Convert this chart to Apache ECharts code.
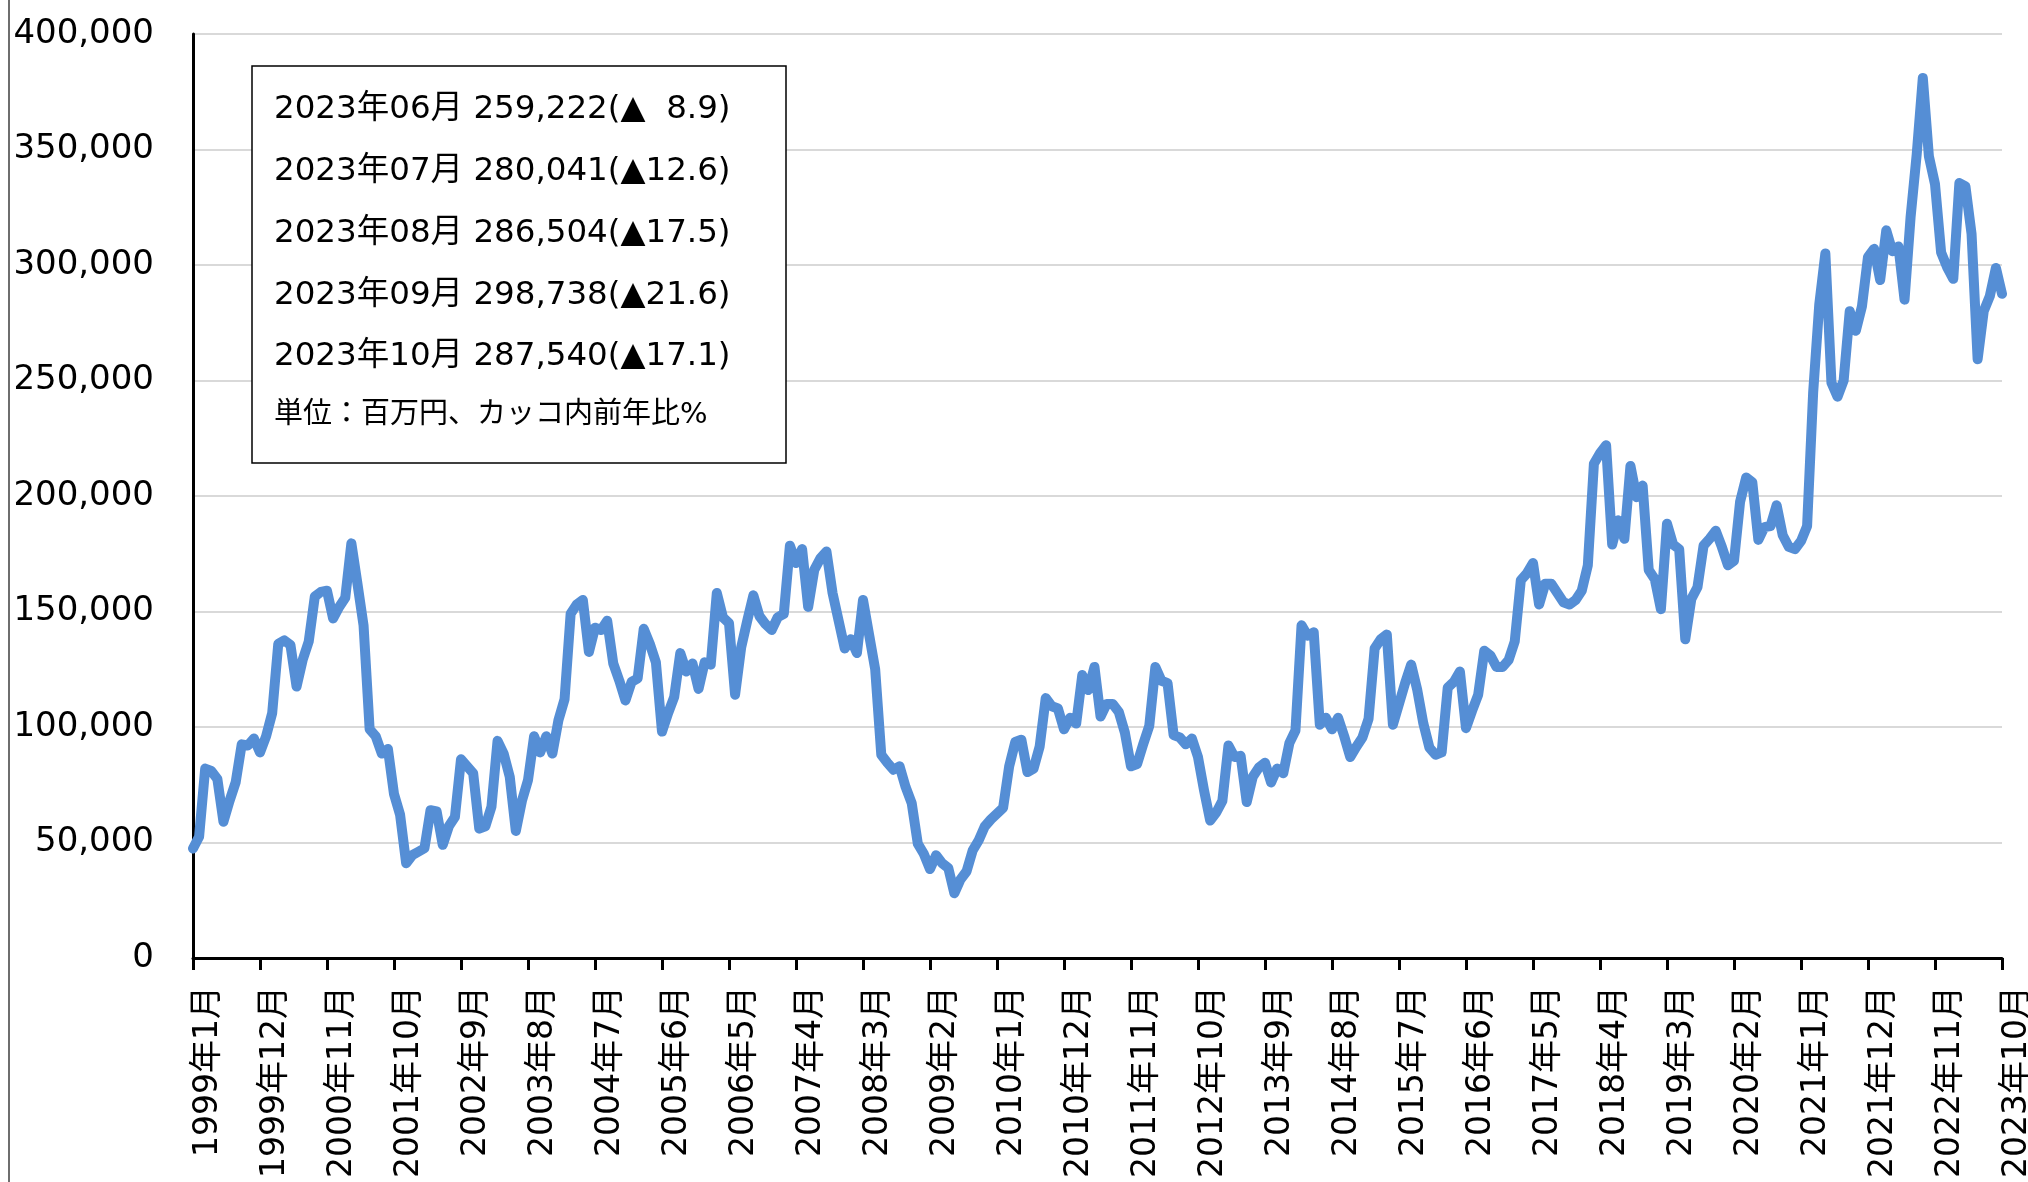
<!DOCTYPE html>
<html lang="ja">
  <head>
    <meta charset="UTF-8" />
    <title>月次輸入額の推移</title>
    <style>
      html,
      body {
        margin: 0;
        padding: 0;
        background: #fff;
      }
      #main {
        width: 2028px;
        height: 1182px;
      }
    </style>
  </head>
  <body>
    <div id="main"></div>
    <script src="https://cdn.jsdelivr.net/npm/echarts@6.0.0/dist/echarts.min.js"></script>
    <script>
      // 月次の値（百万円）1999年1月〜2023年10月
      const values = [
        // 1999
        47400, 52500, 82000, 81000, 77500, 59000, 68000, 76000, 92500, 92000, 95000, 89000,
        // 2000
        96000, 106000, 136000, 137500, 135500, 117500, 129000, 137000, 156500, 158500, 159000, 147000,
        // 2001
        152000, 156000, 179500, 162000, 144000, 99000, 96000, 88500, 90500, 71000, 62000, 41000,
        // 2002
        44500, 46000, 47500, 64000, 63500, 49000, 57000, 61000, 86000, 83000, 80000, 56000,
        // 2003
        57000, 65500, 94000, 88500, 78500, 55000, 68000, 77000, 96000, 89000, 96000, 88500,
        // 2004
        103000, 112000, 149000, 153000, 155000, 132500, 143000, 142000, 146000, 127500, 120000, 111500,
        // 2005
        119500, 121000, 142500, 136000, 128000, 98000, 106000, 113000, 132000, 124000, 127500, 116500,
        // 2006
        128000, 127000, 158000, 147500, 145000, 114000, 134500, 146000, 157000, 148000, 144500, 142000,
        // 2007
        147500, 149000, 178500, 171000, 177000, 152000, 168000, 173000, 176000, 158000, 146000, 134000,
        // 2008
        138000, 132000, 155000, 140000, 125000, 88000, 84500, 81500, 83000, 74000, 67000, 49500,
        // 2009
        45000, 38500, 44500, 41000, 39000, 28000, 34000, 37500, 46500, 51000, 57000, 60000,
        // 2010
        62500, 65000, 83000, 93500, 94500, 80500, 82000, 91500, 112500, 109000, 108000, 99000,
        // 2011
        104000, 101500, 122500, 116000, 126000, 104500, 110000, 110000, 106500, 97500, 83000, 84000,
        // 2012
        92500, 100500, 126000, 120000, 119000, 96500, 95500, 92500, 95000, 87000, 72500, 59500,
        // 2013
        63000, 68000, 92000, 87000, 87500, 67500, 78500, 82500, 84500, 76000, 82000, 80000,
        // 2014
        93000, 98500, 144000, 139500, 141000, 101000, 104000, 99000, 104000, 96000, 87000, 91500,
        // 2015
        95500, 103500, 134000, 138000, 140000, 101000, 110000, 119000, 127000, 116000, 101500, 91000,
        // 2016
        88000, 89000, 117000, 119500, 124000, 99500, 107000, 114000, 133000, 131000, 126000, 126000,
        // 2017
        129000, 137000, 163500, 166500, 171000, 153000, 162000, 162000, 158000, 154000, 153000, 155000,
        // 2018
        159000, 170000, 214000, 218500, 222000, 179000, 189500, 181500, 213000, 199500, 204500, 168000,
        // 2019
        164000, 151000, 188000, 179000, 177000, 138000, 155500, 160500, 178500, 181500, 185000, 178000,
        // 2020
        170000, 172000, 197500, 208000, 206000, 181000, 186500, 187000, 196000, 183000, 178000, 177000,
        // 2021
        180500, 187000, 245000, 283000, 305000, 249000, 243000, 250000, 280000, 271500, 282000, 303500,
        // 2022
        307000, 293500, 315000, 306000, 308000, 285000, 321000, 348000, 381000, 347000, 335000, 305500,
        // 2023
        299000, 294000, 335500, 334000, 313500, 259222, 280041, 286504, 298738, 287540,
      ];

      // カテゴリ（1999年1月〜2023年10月）
      const months = [];
      for (let y = 1999; y <= 2023; y++) {
        for (let m = 1; m <= 12; m++) {
          if (y === 2023 && m > 10) break;
          months.push(y + "年" + m + "月");
        }
      }

      // テキストボックスの内容
      const boxMonths = ["2023年06月", "2023年07月", "2023年08月", "2023年09月", "2023年10月"];
      const boxYoy = ["8.9", "12.6", "17.5", "21.6", "17.1"];
      const boxNote = "単位：百万円、カッコ内前年比%";

      const FONT = '"DejaVu Sans", "Noto Sans CJK JP", sans-serif';

      const lastValues = values.slice(-boxMonths.length);
      const boxLines = boxMonths.map((m, i) => {
        const pad = boxYoy[i].length < 4 ? "  " : "";
        return m + " " + lastValues[i].toLocaleString("en-US") + "(▲" + pad + boxYoy[i] + ")";
      });

      const myChart = echarts.init(document.getElementById("main"));

      const boxTexts = boxLines.map((t, i) => ({
        type: "text",
        z: 101,
        style: {
          text: t,
          x: 274,
          y: 110 + i * 61.7,
          font: "32.5px " + FONT,
          fill: "#000",
          verticalAlign: "middle",
        },
      }));

      const option = {
        animation: false,
        backgroundColor: "#fff",
        grid: {
          left: 193,
          right: 26,
          top: 34,
          bottom: 224,
          outerBoundsMode: "none",
        },
        xAxis: {
          type: "category",
          data: months,
          boundaryGap: false,
          axisLine: { lineStyle: { color: "#000", width: 3 } },
          axisTick: {
            interval: 10,
            length: 12,
            lineStyle: { color: "#000", width: 3 },
          },
          axisLabel: {
            interval: 10,
            rotate: 90,
            margin: 28,
            fontSize: 33,
            fontFamily: FONT,
            color: "#000",
            verticalAlign: "top",
            lineHeight: 30,
          },
          splitLine: { show: false },
        },
        yAxis: {
          type: "value",
          min: 0,
          max: 400000,
          interval: 50000,
          axisLine: { show: true, lineStyle: { color: "#000", width: 3 } },
          axisTick: { show: false },
          axisLabel: {
            margin: 39,
            fontSize: 34,
            fontFamily: FONT,
            color: "#000",
            formatter: (v) => v.toLocaleString("en-US"),
          },
          splitLine: { lineStyle: { color: "#d9d9d9", width: 2 } },
        },
        series: [
          {
            type: "line",
            data: values,
            showSymbol: false,
            symbol: "none",
            lineStyle: {
              color: "#558ED5",
              width: 10,
              cap: "round",
              join: "round",
            },
          },
        ],
        graphic: [
          {
            type: "line",
            shape: { x1: 9, y1: 0, x2: 9, y2: 1182 },
            style: { stroke: "#6e6e6e", lineWidth: 2 },
          },
          {
            type: "rect",
            z: 100,
            shape: { x: 252, y: 66, width: 534, height: 397 },
            style: { fill: "#fff", stroke: "#000", lineWidth: 1.5 },
          },
          ...boxTexts,
          {
            type: "text",
            z: 101,
            style: {
              text: boxNote,
              x: 274,
              y: 415,
              font: "29px " + FONT,
              fill: "#000",
              verticalAlign: "middle",
            },
          },
        ],
      };

      myChart.setOption(option);
    </script>
  </body>
</html>
